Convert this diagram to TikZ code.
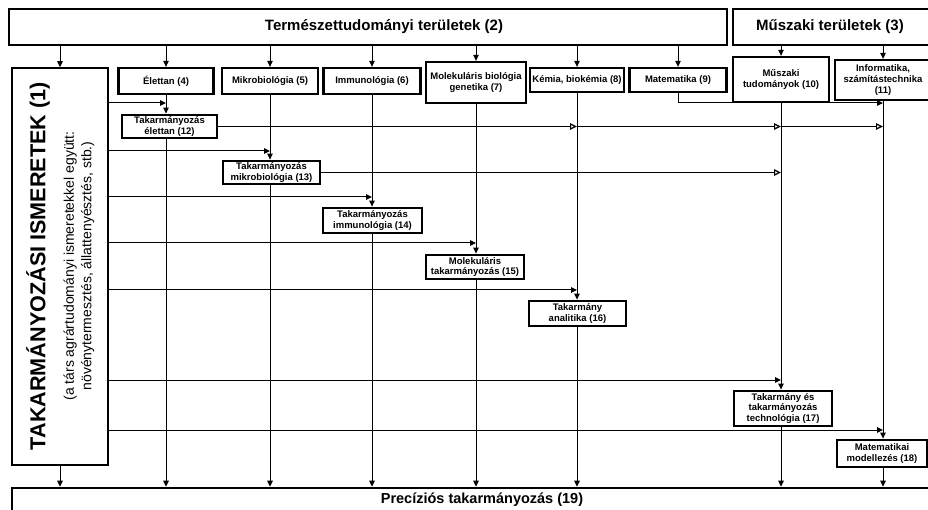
\documentclass[tikz,border=0pt]{standalone}
\usepackage{fontspec}
\setmainfont{Liberation Sans}
\usetikzlibrary{arrows.meta,calc}
\begin{document}
\begin{tikzpicture}[x=1pt,y=-1pt,
  area/.style={draw, line width=1.1pt, inner sep=0pt},
  field/.style={draw, line width=2.3pt, inner sep=0pt, align=center, font=\bfseries\fontsize{9.5}{10.8}\selectfont},
  topic/.style={draw, line width=2.8pt, inner sep=0pt, align=center, font=\bfseries\fontsize{9.5}{10.5}\selectfont},
  bigtxt/.style={inner sep=0pt, font=\bfseries\fontsize{15}{18}\selectfont},
  arr/.style={line width=1pt, -{Triangle[length=6pt,width=5.5pt]}},
  oarr/.style={line width=1pt, -{Triangle[open,length=7pt,width=6.5pt,line width=1.2pt]}}
]
\useasboundingbox (0,0) rectangle (928,510);
\fill[white] (0,0) rectangle (928,510);
\clip (0,0) rectangle (928,510);

% area boxes
\node[area, minimum width=718pt, minimum height=36pt] (t2) at (368,27) {};
\node[bigtxt] (t2t) at (384,27) {Természettudományi területek (2)};
\node[area, minimum width=210pt, minimum height=36pt] (t3) at (838,27) {};
\node[bigtxt] (t3t) at (830,27) {Műszaki területek (3)};

% left box
\node[draw, line width=1.6pt, minimum width=96pt, minimum height=397pt, inner sep=0pt] (L1) at (60,266.5) {};
\node[rotate=90, inner sep=0pt, font=\bfseries\fontsize{21.6}{25}\selectfont] (L1t) at (38,266) {TAKARMÁNYOZÁSI ISMERETEK (1)};
\node[rotate=90, inner sep=0pt, align=center, font=\fontsize{14}{17.5}\selectfont] (L1s) at (79,266) {(a társ agrártudományi ismeretekkel együtt:\\növénytermesztés, állattenyésztés, stb.)};

% second row
\node[field, minimum width=95pt, minimum height=26pt] (el) at (166,81) {Élettan (4)};
\node[field, minimum width=96pt, minimum height=26pt] (mik) at (270,81) {Mikrobiológia (5)};
\node[field, minimum width=97pt, minimum height=26pt] (imm) at (372,81) {Immunológia (6)};
\node[field, minimum width=100pt, minimum height=41pt] (mol) at (476,82.5) {Molekuláris biológia\\genetika (7)};
\node[field, minimum width=94pt, minimum height=24pt] (kem) at (577,80) {Kémia, biokémia (8)};
\node[field, minimum width=97pt, minimum height=24pt] (mat) at (678,80) {Matematika (9)};
\node[field, minimum width=96pt, minimum height=45pt] (msz) at (781,79.5) {Műszaki\\tudományok (10)};
\node[field, minimum width=96pt, minimum height=40pt] (inf) at (883,80) {Informatika,\\számítástechnika\\(11)};

% topic boxes
\node[topic, minimum width=95pt, minimum height=23pt] (t12) at (169.5,126.5) {Takarmányozás\\élettan (12)};
\node[topic, minimum width=97pt, minimum height=23pt] (t13) at (271.5,172.5) {Takarmányozás\\mikrobiológia (13)};
\node[topic, minimum width=99pt, minimum height=25pt] (t14) at (372.5,220.5) {Takarmányozás\\immunológia (14)};
\node[topic, minimum width=98pt, minimum height=24pt] (t15) at (475,267) {Molekuláris\\takarmányozás (15)};
\node[topic, minimum width=97pt, minimum height=25pt] (t16) at (577.5,313.5) {Takarmány\\analitika (16)};
\node[topic, minimum width=98pt, minimum height=35pt] (t17) at (783,408.5) {Takarmány és\\takarmányozás\\technológia (17)};
\node[topic, minimum width=90pt, minimum height=27pt] (t18) at (882,453.5) {Matematikai\\modellezés (18)};

% bottom box
\node[draw, line width=2.6pt, minimum width=930pt, minimum height=40pt, inner sep=0pt] (bot) at (477,508) {};
\node[inner sep=0pt, font=\bfseries\fontsize{14.5}{17}\selectfont] (bott) at (482,500) {Precíziós takarmányozás (19)};

% level coordinates
\coordinate (y12) at (0,103);
\coordinate (y13) at (0,151);
\coordinate (y14) at (0,197);
\coordinate (y15) at (0,243);
\coordinate (y16) at (0,290);
\coordinate (y17) at (0,380);
\coordinate (y18) at (0,430);
\coordinate (ym) at (0,103);

% arrows from area boxes
\draw[arr] (t2.south -| L1.north) -- (L1.north);
\foreach \n in {el,mik,imm,mol,kem,mat} \draw[arr] (t2.south -| \n.north) -- (\n.north);
\foreach \n in {msz,inf} \draw[arr] (t3.south -| \n.north) -- (\n.north);

% columns
\foreach \n/\t in {el/t12,mik/t13,imm/t14,mol/t15,kem/t16,msz/t17,inf/t18}{
  \draw[arr] (\n.south) -- (\n.south |- \t.north);
  \draw[arr] (\n.south |- \t.south) -- (\n.south |- bot.north);
}
\draw[arr] (L1.south) -- (L1.south |- bot.north);

% inputs from left box
\foreach \yy/\n in {y12/el,y13/mik,y14/imm,y15/mol,y16/kem,y17/msz,y18/inf}
  \draw[arr] (L1.east |- \yy) -- (\n.south |- \yy);

% open-arrow links
\draw[oarr] (t12.east) -- (t12.east -| kem.south);
\draw[oarr] (t12.east -| kem.south) -- (t12.east -| msz.south);
\draw[oarr] (t12.east -| msz.south) -- (t12.east -| inf.south);
\draw[oarr] (t13.east) -- (t13.east -| msz.south);

% matematika to informatika
\draw[arr] (mat.south) -- (mat.south |- ym) -- (inf.south |- ym);
\end{tikzpicture}
\end{document}
